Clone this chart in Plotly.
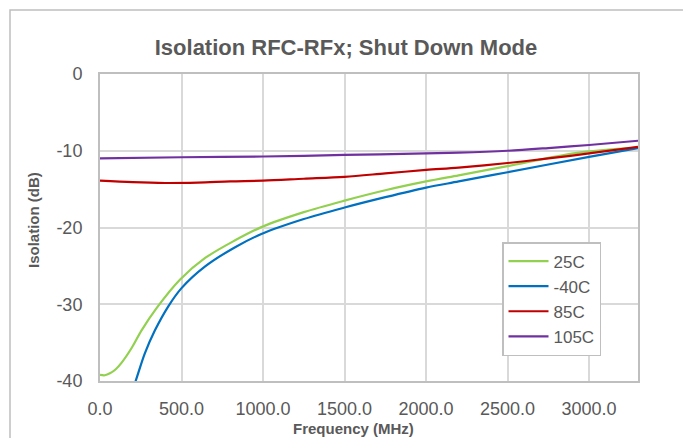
import plotly.graph_objects as go

# Data
freq_25c = [0, 30, 61, 95, 133, 194, 255, 347, 490, 643, 826, 990, 1250, 1500, 1750, 2000, 2200, 2500, 2917, 3300]
iso_25c = [-39.2, -39.25, -39.0, -38.5, -37.6, -35.7, -33.4, -30.5, -26.8, -24.0, -21.7, -19.95, -18.0, -16.5, -15.15, -14.0, -13.2, -12.0, -10.3, -9.6]

freq_m40c = [180, 214, 275, 337, 418, 500, 643, 826, 990, 1250, 1500, 1750, 2000, 2200, 2500, 3000, 3300]
iso_m40c = [-42.2, -40.3, -36.4, -33.4, -30.3, -27.9, -25.1, -22.6, -20.85, -18.9, -17.4, -16.05, -14.8, -14.0, -12.8, -10.8, -9.65]

freq_85c = [0, 200, 400, 600, 800, 1000, 1250, 1500, 1750, 2000, 2200, 2500, 2750, 3000, 3300]
iso_85c = [-13.9, -14.1, -14.2, -14.15, -14.0, -13.9, -13.65, -13.4, -12.95, -12.5, -12.2, -11.6, -11.0, -10.35, -9.5]

freq_105c = [0, 500, 1000, 1500, 2000, 2200, 2500, 2750, 3000, 3300]
iso_105c = [-11.0, -10.85, -10.75, -10.55, -10.35, -10.25, -10.0, -9.65, -9.25, -8.7]

series_names = ["25C", "-40C", "85C", "105C"]
series_colors = ["#92D050", "#0070C0", "#C00000", "#7030A0"]

x_ticks = [0, 500, 1000, 1500, 2000, 2500, 3000]
x_tick_text = ["0.0", "500.0", "1000.0", "1500.0", "2000.0", "2500.0", "3000.0"]
y_ticks = [0, -10, -20, -30, -40]
y_tick_text = ["0", "-10", "-20", "-30", "-40"]

FONT = "Liberation Sans"
GRAY = "#595959"

# page body has an 8px margin: target window coordinates minus 8
OFF = 8
L, R, T, B = 100 - OFF, 691 - 638 + OFF, 74 - OFF, 438 - 381 + OFF
PW, PH = 691 - L - R, 438 - T - B


def px_x(p):  # window pixel -> paper x
    return (p - 100) / PW


def px_y(p):  # window pixel -> paper y
    return (381 - p) / PH


fig = go.Figure()
for name, color, xs, ys in zip(series_names, series_colors,
                               [freq_25c, freq_m40c, freq_85c, freq_105c],
                               [iso_25c, iso_m40c, iso_85c, iso_105c]):
    fig.add_trace(go.Scatter(x=xs, y=ys, mode="lines", name=name,
                             line=dict(color=color, width=2.2, shape="spline", smoothing=0.9)))

fig.update_layout(
    width=691, height=438,
    margin=dict(l=L, r=R, t=T, b=B),
    paper_bgcolor="white", plot_bgcolor="white",
    title=dict(text="<b>Isolation RFC-RFx; Shut Down Mode</b>", x=(346 - OFF) / 691, xanchor="center",
               y=1 - (47 - OFF) / 438, yanchor="middle",
               font=dict(family=FONT, size=22, color=GRAY)),
    font=dict(family=FONT, color=GRAY),
    showlegend=True,
    legend=dict(x=px_x(502), y=px_y(242), xanchor="left", yanchor="top",
                bgcolor="white", bordercolor="#BFBFBF", borderwidth=1.5,
                font=dict(family=FONT, size=17, color=GRAY),
                tracegroupgap=0, itemwidth=40),
    annotations=[
        dict(text="<b>Frequency (MHz)</b>", xref="paper", yref="paper",
             x=px_x(353), y=px_y(428), xanchor="center", yanchor="middle",
             showarrow=False, font=dict(family=FONT, size=15, color=GRAY)),
        dict(text="<b>Isolation (dB)</b>", xref="paper", yref="paper",
             x=px_x(33), y=px_y(220), xanchor="center", yanchor="middle",
             textangle=-90, showarrow=False, font=dict(family=FONT, size=15, color=GRAY)),
    ],
)
fig.update_xaxes(range=[0, 3300], tickvals=x_ticks, ticktext=x_tick_text,
                 showgrid=True, gridcolor="#D9D9D9", gridwidth=2,
                 showline=True, linecolor="#BFBFBF", linewidth=2, mirror=True,
                 ticks="", zeroline=False, ticklabelstandoff=10,
                 tickfont=dict(family=FONT, size=18, color=GRAY))
fig.update_yaxes(range=[-40, 0], tickvals=y_ticks, ticktext=y_tick_text,
                 showgrid=True, gridcolor="#D9D9D9", gridwidth=2,
                 showline=True, linecolor="#BFBFBF", linewidth=2, mirror=True,
                 ticks="", zeroline=False, ticklabelstandoff=12,
                 tickfont=dict(family=FONT, size=18, color=GRAY))

# outer chart border (Excel chart area)
fig.add_shape(type="rect", xref="paper", yref="paper",
              x0=px_x(10), x1=px_x(689), y0=px_y(450), y1=px_y(10),
              line=dict(color="#BFBFBF", width=1.5), layer="below")

fig.write_html("out.html")
